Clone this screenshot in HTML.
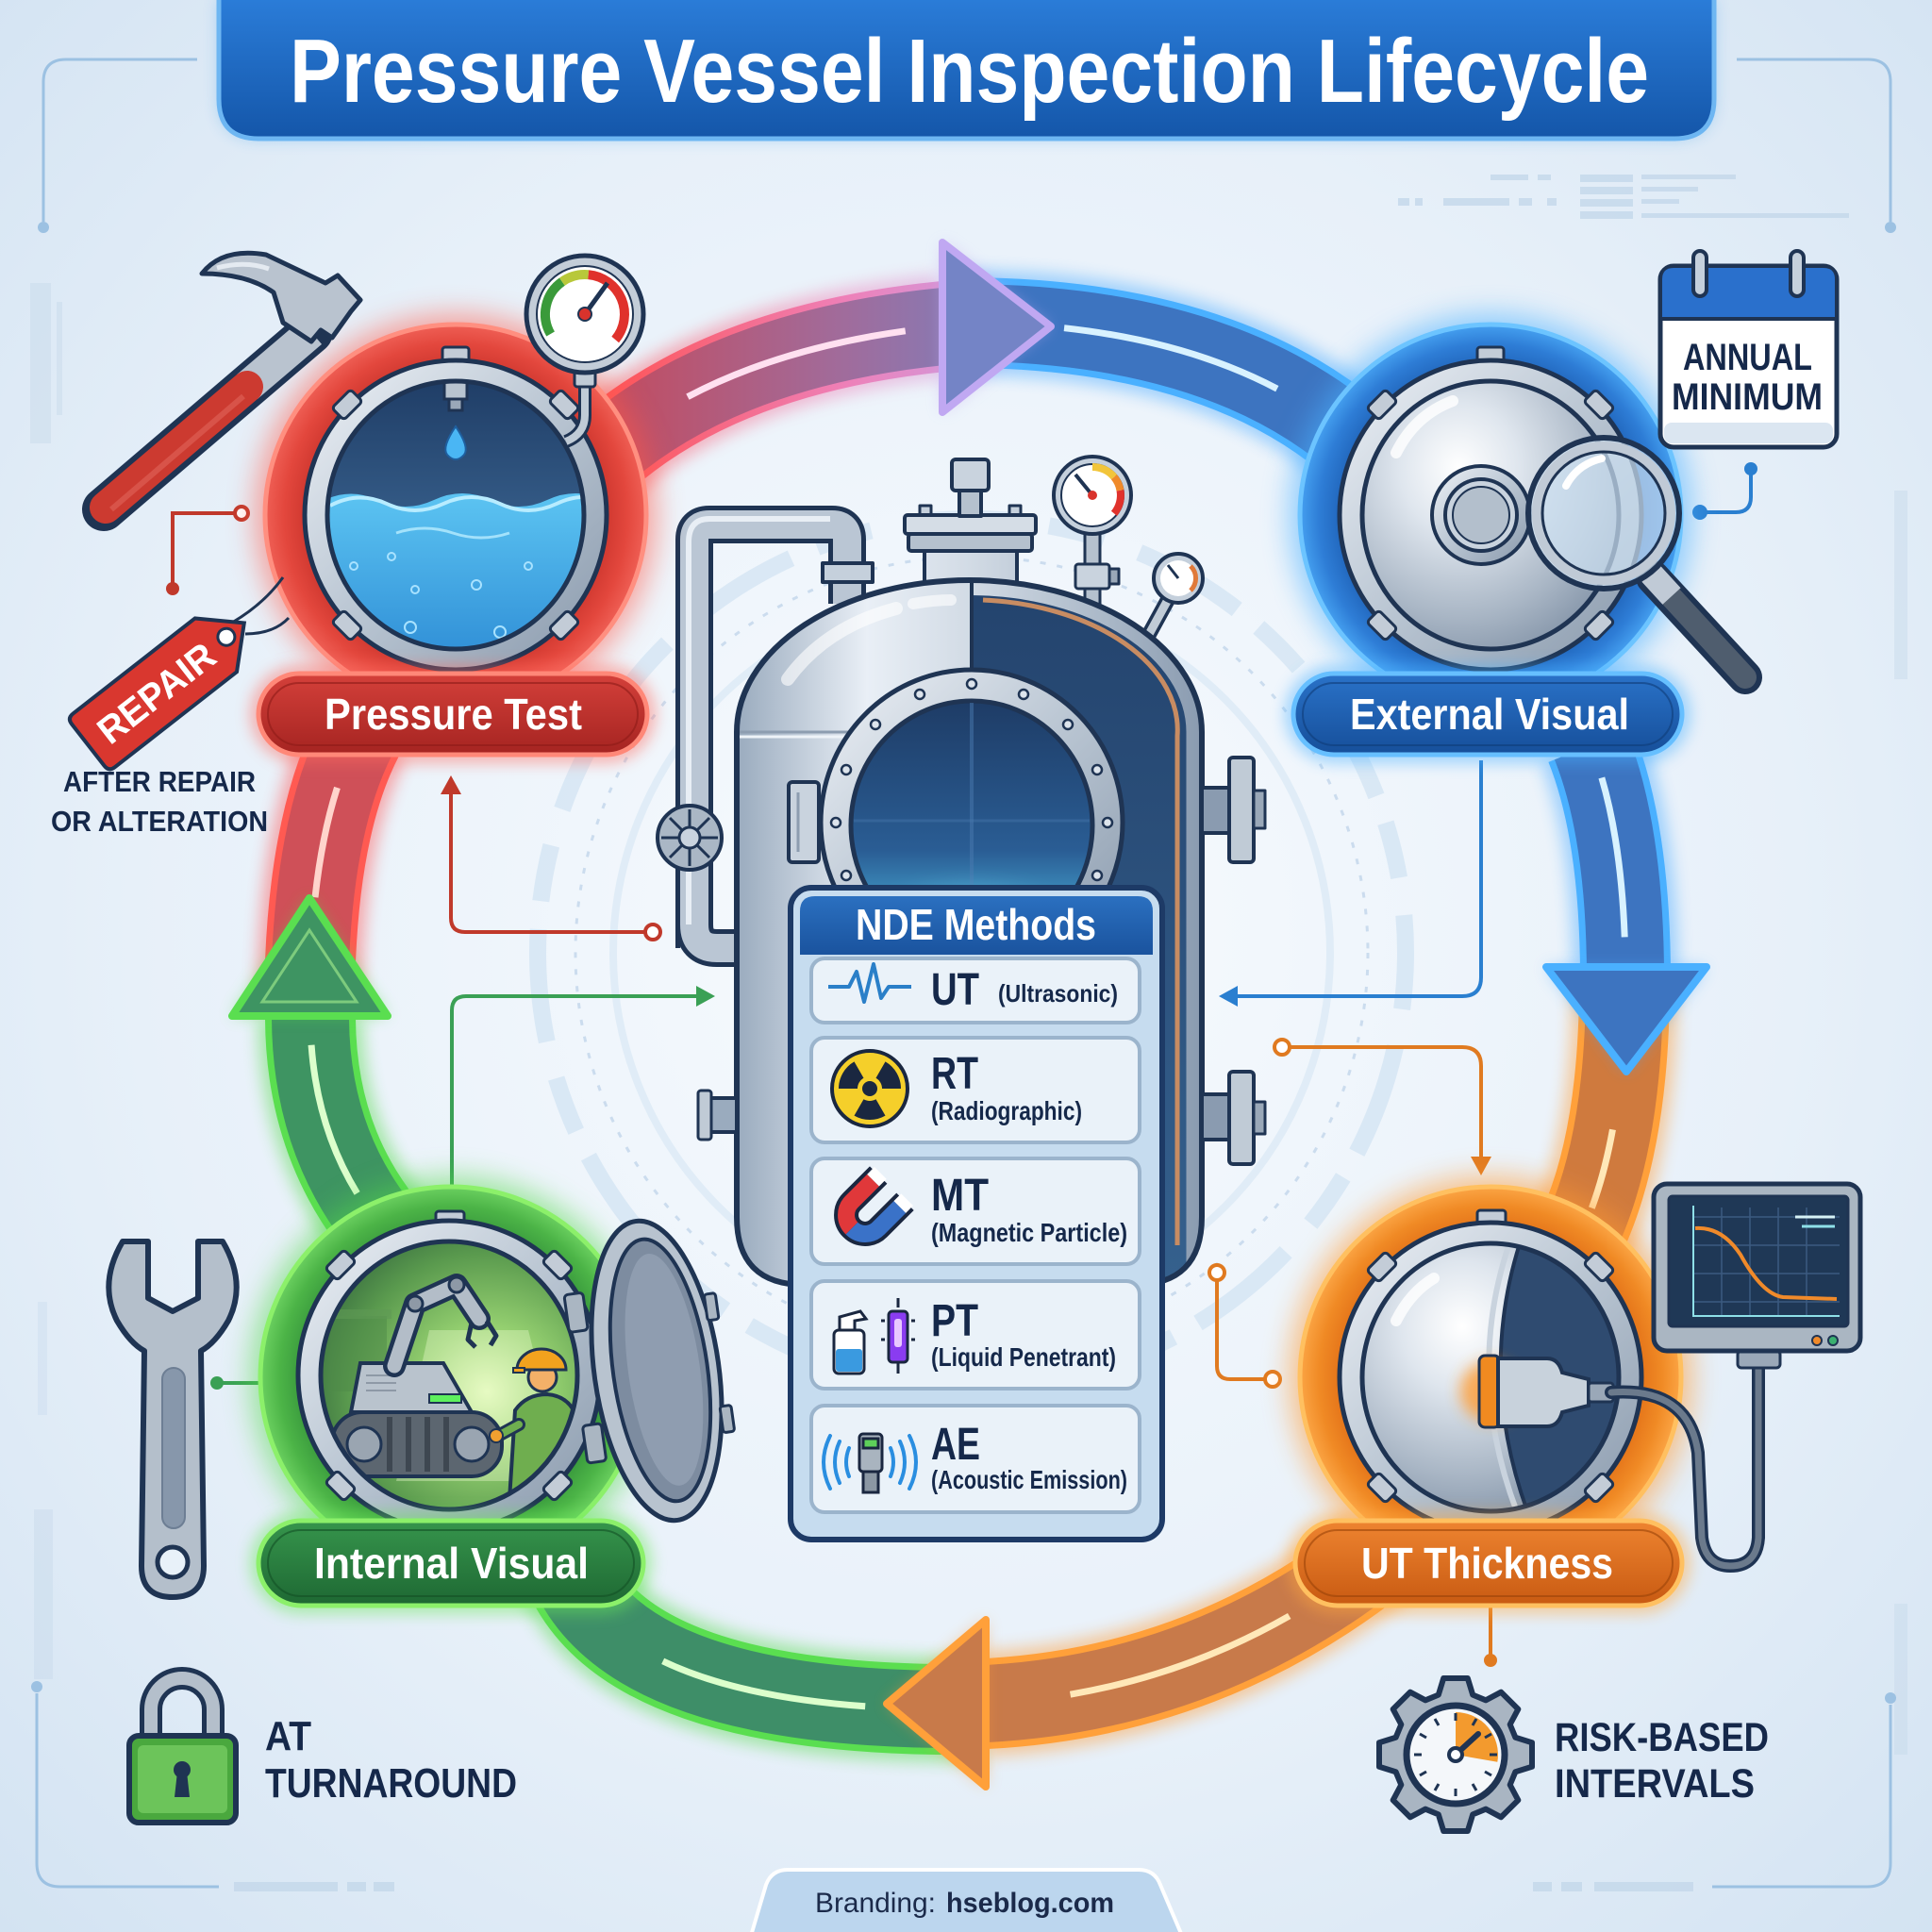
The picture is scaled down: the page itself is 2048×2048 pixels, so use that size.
<!DOCTYPE html>
<html><head><meta charset="utf-8">
<style>
html,body{margin:0;padding:0;background:#e6f0f8;}
svg{display:block}
text{font-family:"Liberation Sans",Arial,sans-serif;}
</style></head>
<body>
<svg xmlns="http://www.w3.org/2000/svg" width="2048" height="2048" viewBox="0 0 2048 2048">
<defs>
  <radialGradient id="bg" cx="50%" cy="48%" r="72%">
    <stop offset="0" stop-color="#f8fbfe"/><stop offset=".6" stop-color="#e7f0f9"/><stop offset="1" stop-color="#d3e3f2"/>
  </radialGradient>
  <filter id="b4" filterUnits="userSpaceOnUse" x="0" y="0" width="2048" height="2048"><feGaussianBlur stdDeviation="4"/></filter>
  <filter id="b8" filterUnits="userSpaceOnUse" x="0" y="0" width="2048" height="2048"><feGaussianBlur stdDeviation="8"/></filter>
  <filter id="b14" filterUnits="userSpaceOnUse" x="0" y="0" width="2048" height="2048"><feGaussianBlur stdDeviation="14"/></filter>
  <linearGradient id="gTitle" x1="0" y1="0" x2="0" y2="1"><stop offset="0" stop-color="#2b7dd9"/><stop offset="1" stop-color="#1456a9"/></linearGradient>
  <linearGradient id="gShell" gradientUnits="userSpaceOnUse" x1="781" y1="0" x2="1274" y2="0">
    <stop offset="0" stop-color="#9aabbe"/><stop offset=".28" stop-color="#e9eff6"/><stop offset=".5" stop-color="#d2dbe5"/><stop offset=".8" stop-color="#a9b7c7"/><stop offset="1" stop-color="#8a9bb0"/>
  </linearGradient>
  <linearGradient id="gInt" x1="0" y1="0" x2="0" y2="1"><stop offset="0" stop-color="#24446e"/><stop offset="1" stop-color="#36628f"/></linearGradient>
  <linearGradient id="gPort" x1="0" y1="0" x2="0" y2="1"><stop offset="0" stop-color="#1e3c66"/><stop offset=".6" stop-color="#2a5d94"/><stop offset="1" stop-color="#52c6ec"/></linearGradient>
  <linearGradient id="gMetal" x1="0" y1="0" x2="1" y2="1"><stop offset="0" stop-color="#eef2f7"/><stop offset=".5" stop-color="#b9c5d2"/><stop offset="1" stop-color="#8898ab"/></linearGradient>
  <radialGradient id="gSphere" cx=".38" cy=".32" r=".75"><stop offset="0" stop-color="#ffffff"/><stop offset=".3" stop-color="#dfe6ee"/><stop offset=".7" stop-color="#a9b6c5"/><stop offset="1" stop-color="#7d8ea3"/></radialGradient>
  <linearGradient id="gWater" x1="0" y1="0" x2="0" y2="1"><stop offset="0" stop-color="#5cc4f2"/><stop offset="1" stop-color="#2f8ed6"/></linearGradient>
  <linearGradient id="gDeep" x1="0" y1="0" x2="0" y2="1"><stop offset="0" stop-color="#1f3d66"/><stop offset="1" stop-color="#4a7aa8"/></linearGradient>
  <radialGradient id="gIV" cx=".62" cy=".55" r=".65"><stop offset="0" stop-color="#e0f8b8"/><stop offset=".35" stop-color="#95d070"/><stop offset=".75" stop-color="#5a9a4e"/><stop offset="1" stop-color="#3a7040"/></radialGradient>
  <radialGradient id="gRed" cx=".5" cy=".5" r=".5"><stop offset=".75" stop-color="#c9332b"/><stop offset=".9" stop-color="#e3473d"/><stop offset="1" stop-color="#ef5f55"/></radialGradient>
  <radialGradient id="gBlue" cx=".5" cy=".5" r=".5"><stop offset=".75" stop-color="#1d5fb4"/><stop offset=".9" stop-color="#2e7dd6"/><stop offset="1" stop-color="#45a0f0"/></radialGradient>
  <radialGradient id="gGreen" cx=".5" cy=".5" r=".5"><stop offset=".75" stop-color="#34923a"/><stop offset=".9" stop-color="#4cb447"/><stop offset="1" stop-color="#6bd060"/></radialGradient>
  <radialGradient id="gOrange" cx=".5" cy=".5" r=".5"><stop offset=".75" stop-color="#e06c15"/><stop offset=".9" stop-color="#f08a25"/><stop offset="1" stop-color="#fba545"/></radialGradient>
  <linearGradient id="gPR" x1="0" y1="0" x2="0" y2="1"><stop offset="0" stop-color="#d4403a"/><stop offset="1" stop-color="#a52421"/></linearGradient>
  <linearGradient id="gPB" x1="0" y1="0" x2="0" y2="1"><stop offset="0" stop-color="#2a72c8"/><stop offset="1" stop-color="#164f9a"/></linearGradient>
  <linearGradient id="gPG" x1="0" y1="0" x2="0" y2="1"><stop offset="0" stop-color="#36954c"/><stop offset="1" stop-color="#1e6833"/></linearGradient>
  <linearGradient id="gPO" x1="0" y1="0" x2="0" y2="1"><stop offset="0" stop-color="#ee8430"/><stop offset="1" stop-color="#c85a12"/></linearGradient>
  <linearGradient id="gHdr" x1="0" y1="0" x2="0" y2="1"><stop offset="0" stop-color="#2b70c0"/><stop offset="1" stop-color="#1a539e"/></linearGradient>
  <linearGradient id="gTopE" gradientUnits="userSpaceOnUse" x1="630" y1="0" x2="1114" y2="0"><stop offset="0" stop-color="#ff5252"/><stop offset=".55" stop-color="#ee80b8"/><stop offset="1" stop-color="#c0a8f2"/></linearGradient>
  <linearGradient id="gTopB" gradientUnits="userSpaceOnUse" x1="630" y1="0" x2="1114" y2="0"><stop offset="0" stop-color="#c44a5c"/><stop offset=".55" stop-color="#a06c9c"/><stop offset="1" stop-color="#7484c6"/></linearGradient>
  <clipPath id="cPT"><ellipse cx="483" cy="546" rx="136" ry="142"/></clipPath>
  <clipPath id="cEV"><ellipse cx="1580" cy="546" rx="136" ry="142"/></clipPath>
  <clipPath id="cIV"><ellipse cx="476" cy="1458" rx="136" ry="142"/></clipPath>
  <clipPath id="cUT"><ellipse cx="1580" cy="1460" rx="136" ry="142"/></clipPath>
  <clipPath id="cShell"><path d="M781 776 A246.5 161 0 0 1 1274 776 L1274 1290 Q1274 1362 1202 1362 L853 1362 Q781 1362 781 1290 Z"/></clipPath>
</defs>

<!-- background -->
<rect width="2048" height="2048" fill="url(#bg)"/>

<!-- decorative faint elements -->
<g fill="#c3d7ea" opacity=".8">
  <rect x="1482" y="210" width="12" height="8"/><rect x="1500" y="210" width="8" height="8"/><rect x="1530" y="210" width="70" height="8"/><rect x="1610" y="210" width="14" height="8"/><rect x="1640" y="210" width="10" height="8"/>
  <rect x="1675" y="185" width="56" height="8"/><rect x="1675" y="198" width="56" height="8"/><rect x="1675" y="211" width="56" height="8"/><rect x="1675" y="224" width="56" height="8"/>
  <rect x="1740" y="185" width="100" height="5"/><rect x="1740" y="198" width="60" height="5"/><rect x="1740" y="211" width="40" height="5"/><rect x="1740" y="226" width="220" height="5"/>
  <rect x="1580" y="185" width="40" height="6"/><rect x="1630" y="185" width="14" height="6"/>
  <rect x="32" y="300" width="22" height="170" opacity=".5"/><rect x="60" y="320" width="6" height="120" opacity=".5"/>
  <rect x="2008" y="520" width="14" height="200" opacity=".5"/><rect x="2008" y="1700" width="14" height="160" opacity=".5"/>
  <rect x="36" y="1600" width="20" height="180" opacity=".45"/><rect x="40" y="1380" width="10" height="120" opacity=".4"/>
  <rect x="248" y="1995" width="110" height="10"/><rect x="368" y="1995" width="20" height="10"/><rect x="396" y="1995" width="22" height="10"/>
  <rect x="1625" y="1995" width="20" height="10"/><rect x="1655" y="1995" width="22" height="10"/><rect x="1690" y="1995" width="105" height="10"/>
</g>
<g fill="none" stroke="#9cc1e2" stroke-width="3">
  <path d="M209 63 L70 63 Q46 63 46 87 L46 235"/>
  <path d="M1841 63 L1980 63 Q2004 63 2004 87 L2004 235"/>
  <path d="M39 1795 L39 1975 Q39 2000 64 2000 L232 2000"/>
  <path d="M2004 1807 L2004 1975 Q2004 2000 1979 2000 L1815 2000"/>
</g>
<g fill="#9cc1e2"><circle cx="46" cy="241" r="6"/><circle cx="2004" cy="241" r="6"/><circle cx="39" cy="1788" r="6"/><circle cx="2004" cy="1800" r="6"/></g>
<g fill="none">
  <circle cx="1030" cy="1010" r="420" stroke="#cbdcee" stroke-width="3" stroke-dasharray="6 12"/>
  <circle cx="1030" cy="1010" r="460" stroke="#d0e2f2" stroke-width="18" stroke-dasharray="60 40 120 30" opacity=".7"/>
  <circle cx="1030" cy="1010" r="380" stroke="#d6e6f4" stroke-width="8" opacity=".6"/>
</g>

<!-- ARROWS -->
<!-- left red -->
<g fill="none">
  <path d="M328 1070 Q328 880 380 780" stroke="#ff4f4f" stroke-width="112" opacity=".45" filter="url(#b8)"/>
  <path d="M328 1070 Q328 880 380 780" stroke="#ff5a52" stroke-width="96"/>
  <path d="M328 1070 Q328 880 380 780" stroke="#cf5058" stroke-width="82"/>
  <path d="M328 1070 Q328 880 380 780" stroke="#ffd4cc" stroke-width="7" pathLength="100" stroke-dasharray="40 200" stroke-dashoffset="-40"/>
</g>
<!-- left green -->
<g fill="none">
  <path d="M430 1330 Q330 1230 329 1080" stroke="#52d94a" stroke-width="112" opacity=".45" filter="url(#b8)"/>
  <path d="M430 1330 Q330 1230 329 1080" stroke="#5ade50" stroke-width="96"/>
  <path d="M430 1330 Q330 1230 329 1080" stroke="#3e9462" stroke-width="82"/>
  <path d="M430 1330 Q330 1230 329 1080" stroke="#dcffcc" stroke-width="7" pathLength="100" stroke-dasharray="60 200" stroke-dashoffset="-30"/>
</g>
<path d="M246 1077 L411 1077 L328 952 Z" fill="#52d94a" opacity=".5" filter="url(#b8)"/>
<path d="M246 1077 L411 1077 L328 952 Z" fill="#3e9462" stroke="#5ade50" stroke-width="8" stroke-linejoin="round"/>
<path d="M278 1062 L378 1062 L328 986 Z" fill="none" stroke="#a8f090" stroke-width="3" opacity=".6"/>
<!-- bottom green -->
<g fill="none">
  <path d="M1040 1812 Q662 1817 600 1660" stroke="#52d94a" stroke-width="112" opacity=".45" filter="url(#b8)"/>
  <path d="M1040 1812 Q662 1817 600 1660" stroke="#5ade50" stroke-width="96"/>
  <path d="M1040 1812 Q662 1817 600 1660" stroke="#3e8e68" stroke-width="82"/>
  <path d="M1040 1812 Q662 1817 600 1660" stroke="#dcffcc" stroke-width="7" pathLength="100" stroke-dasharray="45 200" stroke-dashoffset="-25"/>
</g>
<!-- bottom orange -->
<g fill="none">
  <path d="M1460 1650 Q1277 1794 1045 1806" stroke="#ff9a30" stroke-width="112" opacity=".45" filter="url(#b8)"/>
  <path d="M1460 1650 Q1277 1794 1045 1806" stroke="#ffa03a" stroke-width="96"/>
  <path d="M1460 1650 Q1277 1794 1045 1806" stroke="#c87a4a" stroke-width="82"/>
  <path d="M1460 1650 Q1277 1794 1045 1806" stroke="#ffe8b8" stroke-width="7" pathLength="100" stroke-dasharray="55 200" stroke-dashoffset="-25"/>
</g>
<path d="M1045 1717 L1045 1894 L940 1806 Z" fill="#ff9a30" opacity=".5" filter="url(#b8)"/>
<path d="M1045 1717 L1045 1894 L940 1806 Z" fill="#c87a4a" stroke="#ffa03a" stroke-width="8" stroke-linejoin="round"/>
<!-- right orange -->
<g fill="none">
  <path d="M1722 1040 Q1722 1220 1670 1320" stroke="#ff9a30" stroke-width="112" opacity=".45" filter="url(#b8)"/>
  <path d="M1722 1040 Q1722 1220 1670 1320" stroke="#ffa03a" stroke-width="96"/>
  <path d="M1722 1040 Q1722 1220 1670 1320" stroke="#cf7a3e" stroke-width="82"/>
  <path d="M1722 1040 Q1722 1220 1670 1320" stroke="#ffe8b8" stroke-width="7" pathLength="100" stroke-dasharray="30 200" stroke-dashoffset="-55"/>
</g>
<!-- right blue -->
<g fill="none">
  <path d="M1686 790 Q1722 880 1723 1030" stroke="#44a8ff" stroke-width="112" opacity=".45" filter="url(#b8)"/>
  <path d="M1686 790 Q1722 880 1723 1030" stroke="#4ab0ff" stroke-width="96"/>
  <path d="M1686 790 Q1722 880 1723 1030" stroke="#3d74c0" stroke-width="82"/>
  <path d="M1686 790 Q1722 880 1723 1030" stroke="#d8f2ff" stroke-width="7" pathLength="100" stroke-dasharray="70 200" stroke-dashoffset="-15"/>
</g>
<path d="M1639 1025 L1809 1025 L1724 1136 Z" fill="#44a8ff" opacity=".5" filter="url(#b8)"/>
<path d="M1639 1025 L1809 1025 L1724 1136 Z" fill="#3d74c0" stroke="#4ab0ff" stroke-width="8" stroke-linejoin="round"/>
<!-- top blue -->
<g fill="none">
  <path d="M1010 342 Q1300 340 1450 480" stroke="#44a8ff" stroke-width="112" opacity=".45" filter="url(#b8)"/>
  <path d="M1010 342 Q1300 340 1450 480" stroke="#4ab0ff" stroke-width="96"/>
  <path d="M1010 342 Q1300 340 1450 480" stroke="#3d74c0" stroke-width="82"/>
  <path d="M1010 342 Q1300 340 1450 480" stroke="#d8f2ff" stroke-width="7" pathLength="100" stroke-dasharray="50 200" stroke-dashoffset="-25"/>
</g>
<!-- top red->purple -->
<g fill="none">
  <path d="M630 490 Q760 370 1000 346" stroke="url(#gTopE)" stroke-width="112" opacity=".45" filter="url(#b8)"/>
  <path d="M630 490 Q760 370 1000 346" stroke="url(#gTopE)" stroke-width="96"/>
  <path d="M630 490 Q760 370 1000 346" stroke="url(#gTopB)" stroke-width="82"/>
  <path d="M630 490 Q760 370 1000 346" stroke="#ffe0f0" stroke-width="7" pathLength="100" stroke-dasharray="60 200" stroke-dashoffset="-30"/>
</g>
<path d="M999 257 L1114 346 L999 437 Z" fill="#c0a8f2" opacity=".5" filter="url(#b8)"/>
<path d="M999 257 L1114 346 L999 437 Z" fill="#7484c6" stroke="#c0a8f2" stroke-width="8" stroke-linejoin="round"/>

<!-- CENTRAL VESSEL -->
<g stroke-linejoin="round">
  <!-- pipe -->
  <path d="M736 1005 L736 572 Q736 556 752 556 L882 556 Q898 556 898 572 L898 640" fill="none" stroke="#1f3453" stroke-width="40"/>
  <path d="M736 1005 L736 572 Q736 556 752 556 L882 556 Q898 556 898 572 L898 640" fill="none" stroke="#bac6d4" stroke-width="30"/>
  <path d="M730 1000 L730 575 Q730 550 752 550 L880 550" fill="none" stroke="#e8eef5" stroke-width="6"/>
  <path d="M736 980 Q736 1005 760 1005 L792 1005" fill="none" stroke="#1f3453" stroke-width="40"/>
  <path d="M736 980 Q736 1005 760 1005 L792 1005" fill="none" stroke="#bac6d4" stroke-width="30"/>
  <rect x="872" y="597" width="53" height="20" fill="#c5d0dc" stroke="#1f3453" stroke-width="4"/>
  <!-- valve wheel -->
  <circle cx="731" cy="888" r="34" fill="#aab7c5" stroke="#1f3453" stroke-width="4"/>
  <g stroke="#1f3453" stroke-width="3"><line x1="731" y1="858" x2="731" y2="918"/><line x1="701" y1="888" x2="761" y2="888"/><line x1="710" y1="867" x2="752" y2="909"/><line x1="752" y1="867" x2="710" y2="909"/></g>
  <circle cx="731" cy="888" r="11" fill="#c9d3de" stroke="#1f3453" stroke-width="3"/>
  <!-- top nozzle -->
  <rect x="980" y="580" width="98" height="48" fill="url(#gShell)" stroke="#1f3453" stroke-width="4"/>
  <rect x="975" y="536" width="12" height="12" fill="#c5d0dc" stroke="#1f3453" stroke-width="3"/>
  <rect x="1070" y="536" width="12" height="12" fill="#c5d0dc" stroke="#1f3453" stroke-width="3"/>
  <rect x="959" y="546" width="139" height="20" rx="3" fill="#d5dde6" stroke="#1f3453" stroke-width="4"/>
  <rect x="963" y="566" width="131" height="18" rx="3" fill="#b5c1ce" stroke="#1f3453" stroke-width="4"/>
  <rect x="1017" y="517" width="23" height="30" fill="#b5c1ce" stroke="#1f3453" stroke-width="4"/>
  <rect x="1009" y="487" width="39" height="33" rx="4" fill="#c9d3de" stroke="#1f3453" stroke-width="4"/>
  <!-- gauge 1 stem -->
  <rect x="1150" y="563" width="16" height="85" fill="#b5c1ce" stroke="#1f3453" stroke-width="3"/>
  <rect x="1140" y="598" width="36" height="26" rx="3" fill="#c9d3de" stroke="#1f3453" stroke-width="3"/>
  <rect x="1176" y="603" width="10" height="16" fill="#9aa8b8" stroke="#1f3453" stroke-width="3"/>
  <!-- gauge 2 stem -->
  <path d="M1240 632 L1216 676" stroke="#1f3453" stroke-width="16" fill="none"/>
  <path d="M1240 632 L1216 676" stroke="#c0cbd6" stroke-width="9" fill="none"/>
  <!-- shell -->
  <path d="M781 776 A246.5 161 0 0 1 1274 776 L1274 1290 Q1274 1362 1202 1362 L853 1362 Q781 1362 781 1290 Z" fill="url(#gShell)"/>
  <g clip-path="url(#cShell)">
    <path d="M1030 631 A230 145 0 0 1 1257.5 776 L1257.5 1400 L1030 1400 Z" fill="url(#gInt)"/>
    <path d="M1042 636 A222 138 0 0 1 1248 780 L1248 1320" fill="none" stroke="#c88c62" stroke-width="5"/>
    <line x1="781" y1="776" x2="1030" y2="776" stroke="#8d9db0" stroke-width="3"/>
    <line x1="781" y1="781" x2="1030" y2="781" stroke="#eef3f8" stroke-width="3"/>
  </g>
  <path d="M781 776 A246.5 161 0 0 1 1274 776 L1274 1290 Q1274 1362 1202 1362 L853 1362 Q781 1362 781 1290 Z" fill="none" stroke="#1f3453" stroke-width="6"/>
  <line x1="1030" y1="615" x2="1030" y2="720" stroke="#1f3453" stroke-width="4"/>
  <path d="M835 720 Q875 665 950 645" fill="none" stroke="#ffffff" stroke-width="14" stroke-linecap="round" opacity=".6"/>
  <path d="M968 640 Q990 636 1008 636" fill="none" stroke="#ffffff" stroke-width="12" stroke-linecap="round" opacity=".6"/>
  <!-- side nozzles -->
  <rect x="1274" y="835" width="32" height="48" fill="url(#gShell)" stroke="#1f3453" stroke-width="4"/>
  <rect x="1303" y="803" width="26" height="111" rx="4" fill="#c0cbd6" stroke="#1f3453" stroke-width="4"/>
  <rect x="1329" y="838" width="12" height="40" fill="#9aa8b8" stroke="#1f3453" stroke-width="3"/>
  <rect x="1274" y="1160" width="32" height="48" fill="url(#gShell)" stroke="#1f3453" stroke-width="4"/>
  <rect x="1303" y="1136" width="26" height="98" rx="4" fill="#c0cbd6" stroke="#1f3453" stroke-width="4"/>
  <rect x="1329" y="1168" width="12" height="34" fill="#9aa8b8" stroke="#1f3453" stroke-width="3"/>
  <rect x="752" y="1164" width="29" height="36" fill="url(#gShell)" stroke="#1f3453" stroke-width="4"/>
  <rect x="740" y="1156" width="14" height="52" rx="3" fill="#c0cbd6" stroke="#1f3453" stroke-width="3"/>
  <rect x="836" y="829" width="32" height="85" rx="4" fill="#c9d3de" stroke="#1f3453" stroke-width="4"/>
  <line x1="846" y1="840" x2="846" y2="903" stroke="#8d9db0" stroke-width="3"/>
  <!-- manway -->
  <ellipse cx="1030" cy="872" rx="160" ry="162" fill="url(#gMetal)" stroke="#1f3453" stroke-width="5"/>
  <ellipse cx="1030" cy="875" rx="128" ry="132" fill="url(#gPort)" stroke="#1f3453" stroke-width="5"/>
  <line x1="1030" y1="745" x2="1030" y2="1000" stroke="#4a7ab0" stroke-width="4" opacity=".5"/>
  <line x1="905" y1="870" x2="1155" y2="870" stroke="#4a7ab0" stroke-width="3" opacity=".4"/>
  <ellipse cx="1030" cy="985" rx="90" ry="40" fill="#7fe6ff" opacity=".45" filter="url(#b14)"/>
  <g fill="#dde4ec" stroke="#1f3453" stroke-width="2.5">
    <circle cx="1174" cy="872" r="5"/><circle cx="1163" cy="928" r="5"/><circle cx="1132" cy="976" r="5"/>
    <circle cx="928" cy="976" r="5"/><circle cx="897" cy="928" r="5"/><circle cx="886" cy="872" r="5"/>
    <circle cx="897" cy="816" r="5"/><circle cx="928" cy="768" r="5"/><circle cx="975" cy="736" r="5"/>
    <circle cx="1030" cy="725" r="5"/><circle cx="1085" cy="736" r="5"/><circle cx="1132" cy="768" r="5"/><circle cx="1163" cy="816" r="5"/>
  </g>
  <!-- gauge 1 -->
  <circle cx="1158" cy="525" r="41" fill="#c5d0dc" stroke="#1f3453" stroke-width="4"/>
  <circle cx="1158" cy="525" r="33" fill="#ffffff" stroke="#1f3453" stroke-width="2"/>
  <path d="M1158 495 A30 30 0 0 1 1181 505.7" fill="none" stroke="#f2c53a" stroke-width="8"/>
  <path d="M1181 505.7 A30 30 0 0 1 1187.5 519.8" fill="none" stroke="#f08a2a" stroke-width="8"/>
  <path d="M1187.5 519.8 A30 30 0 0 1 1181 544.3" fill="none" stroke="#e0322c" stroke-width="8"/>
  <line x1="1158" y1="525" x2="1140" y2="503" stroke="#1f3453" stroke-width="4"/>
  <circle cx="1158" cy="525" r="5" fill="#d9332c"/>
  <!-- gauge 2 -->
  <circle cx="1249" cy="613" r="26" fill="#c5d0dc" stroke="#1f3453" stroke-width="4"/>
  <circle cx="1249" cy="613" r="19" fill="#ffffff"/>
  <path d="M1262 600 A18 18 0 0 1 1262 626" fill="none" stroke="#e07a3a" stroke-width="5"/>
  <line x1="1249" y1="613" x2="1238" y2="599" stroke="#1f3453" stroke-width="3"/>
</g>

<!-- NDE PANEL -->
<rect x="838" y="941" width="394" height="691" rx="22" fill="#c6dcef" stroke="#1d3a66" stroke-width="6"/>
<path d="M848 1012 L848 966 Q848 950 864 950 L1206 950 Q1222 950 1222 966 L1222 1012 Z" fill="url(#gHdr)"/>
<text x="907" y="996" font-size="46" font-weight="bold" fill="#ffffff" textLength="255" lengthAdjust="spacingAndGlyphs">NDE Methods</text>
<g fill="#eaf2f9" stroke="#9bb4cc" stroke-width="4">
  <rect x="860" y="1016" width="348" height="68" rx="14"/>
  <rect x="860" y="1100" width="348" height="111" rx="14"/>
  <rect x="860" y="1228" width="348" height="112" rx="14"/>
  <rect x="860" y="1358" width="348" height="114" rx="14"/>
  <rect x="860" y="1490" width="348" height="113" rx="14"/>
</g>
<g fill="#15284a" font-weight="bold">
  <text x="987" y="1065" font-size="48" textLength="51" lengthAdjust="spacingAndGlyphs">UT</text>
  <text x="1058" y="1062" font-size="26" textLength="127" lengthAdjust="spacingAndGlyphs">(Ultrasonic)</text>
  <text x="987" y="1154" font-size="48" textLength="50" lengthAdjust="spacingAndGlyphs">RT</text>
  <text x="987" y="1187" font-size="28" textLength="160" lengthAdjust="spacingAndGlyphs">(Radiographic)</text>
  <text x="987" y="1283" font-size="48" textLength="61" lengthAdjust="spacingAndGlyphs">MT</text>
  <text x="987" y="1316" font-size="28" textLength="208" lengthAdjust="spacingAndGlyphs">(Magnetic Particle)</text>
  <text x="987" y="1416" font-size="48" textLength="50" lengthAdjust="spacingAndGlyphs">PT</text>
  <text x="987" y="1448" font-size="28" textLength="196" lengthAdjust="spacingAndGlyphs">(Liquid Penetrant)</text>
  <text x="987" y="1547" font-size="48" textLength="52" lengthAdjust="spacingAndGlyphs">AE</text>
  <text x="987" y="1578" font-size="28" textLength="208" lengthAdjust="spacingAndGlyphs">(Acoustic Emission)</text>
</g>
<!-- NDE icons -->
<polyline points="878,1046 900,1046 908,1030 916,1062 926,1022 934,1058 942,1046 966,1046" fill="none" stroke="#2a7fc8" stroke-width="4" stroke-linejoin="round"/>
<circle cx="922" cy="1154" r="40" fill="#f5cf2a" stroke="#1a2740" stroke-width="4"/>
<g fill="#1a2740">
  <path d="M928.5 1165.3 L938.5 1182.6 A33 33 0 0 1 905.5 1182.6 L915.5 1165.3 A13 13 0 0 0 928.5 1165.3 Z"/>
  <path d="M909 1154 L889 1154 A33 33 0 0 1 905.5 1125.4 L915.5 1142.7 A13 13 0 0 0 909 1154 Z"/>
  <path d="M928.5 1142.7 L938.5 1125.4 A33 33 0 0 1 955 1154 L935 1154 A13 13 0 0 0 928.5 1142.7 Z"/>
  <circle cx="922" cy="1154" r="8"/>
</g>
<g transform="rotate(45 922 1283)" fill="none">
  <path d="M902 1250 L902 1290 A20 20 0 0 0 942 1290 L942 1250" stroke="#1a2740" stroke-width="26"/>
  <path d="M902 1258 L902 1290 A20 20 0 0 0 922 1310" stroke="#e0383a" stroke-width="18"/>
  <path d="M922 1310 A20 20 0 0 0 942 1290 L942 1258" stroke="#3a72c8" stroke-width="18"/>
  <path d="M902 1247 L902 1258 M942 1247 L942 1258" stroke="#ffffff" stroke-width="18"/>
</g>
<g stroke="#1a2740" stroke-width="3">
  <rect x="884" y="1410" width="32" height="46" rx="5" fill="#ffffff"/>
  <rect x="886" y="1430" width="28" height="24" rx="3" fill="#3a9ae0" stroke="none"/>
  <path d="M890 1410 L890 1396 L912 1390 L918 1398 L906 1400 L906 1410 Z" fill="#ffffff"/>
  <rect x="942" y="1390" width="20" height="54" rx="4" fill="#8a3cf0"/>
  <line x1="952" y1="1444" x2="952" y2="1456"/>
  <line x1="952" y1="1376" x2="952" y2="1386"/>
  <line x1="934" y1="1400" x2="938" y2="1400"/><line x1="966" y1="1400" x2="970" y2="1400"/>
  <line x1="934" y1="1420" x2="938" y2="1420"/><line x1="966" y1="1420" x2="970" y2="1420"/>
</g>
<rect x="948" y="1398" width="8" height="30" rx="3" fill="#e8c8ff"/>
<g stroke="#1a2740" stroke-width="3">
  <rect x="911" y="1520" width="24" height="40" rx="4" fill="#a9b4bf"/>
  <rect x="915" y="1525" width="16" height="10" fill="#5ed05a"/>
  <rect x="915" y="1560" width="16" height="22" fill="#8b97a3"/>
</g>
<g fill="none" stroke="#2a8ee0" stroke-width="4" stroke-linecap="round">
  <path d="M900 1535 Q894 1550 900 1565"/><path d="M890 1528 Q880 1550 890 1572"/><path d="M880 1522 Q866 1550 880 1578"/>
  <path d="M944 1535 Q950 1550 944 1565"/><path d="M954 1528 Q964 1550 954 1572"/><path d="M964 1522 Q978 1550 964 1578"/>
</g>

<!-- CONNECTORS -->
<g fill="none" stroke-width="4">
  <path d="M256 544 L183 544 L183 622" stroke="#c0392b"/>
  <path d="M686 988 L493 988 Q478 988 478 973 L478 838" stroke="#c0392b"/>
  <path d="M479 1263 L479 1071 Q479 1056 494 1056 L742 1056" stroke="#3aa055"/>
  <path d="M236 1466 L276 1466" stroke="#3aa055"/>
  <path d="M1570 806 L1570 1036 Q1570 1056 1550 1056 L1308 1056" stroke="#2a7fd0"/>
  <path d="M1366 1110 L1550 1110 Q1570 1110 1570 1130 L1570 1228" stroke="#e07a20"/>
  <path d="M1290 1356 L1290 1448 Q1290 1462 1304 1462 L1342 1462" stroke="#e07a20"/>
  <path d="M1580 1702 L1580 1756" stroke="#e07a20"/>
  <path d="M1808 543 L1840 543 Q1856 543 1856 527 L1856 502" stroke="#2a7fd0"/>
</g>
<circle cx="256" cy="544" r="7" fill="#ffffff" stroke="#c0392b" stroke-width="4"/>
<circle cx="183" cy="624" r="7" fill="#c0392b"/>
<circle cx="692" cy="988" r="8" fill="#ffffff" stroke="#c0392b" stroke-width="4"/>
<path d="M478 822 L467 842 L489 842 Z" fill="#c0392b"/>
<path d="M758 1056 L738 1045 L738 1067 Z" fill="#3aa055"/>
<circle cx="230" cy="1466" r="7" fill="#3aa055"/>
<path d="M1292 1056 L1312 1045 L1312 1067 Z" fill="#2a7fd0"/>
<circle cx="1359" cy="1110" r="8" fill="#ffffff" stroke="#e07a20" stroke-width="4"/>
<path d="M1570 1246 L1559 1226 L1581 1226 Z" fill="#e07a20"/>
<circle cx="1290" cy="1349" r="8" fill="#ffffff" stroke="#e07a20" stroke-width="4"/>
<circle cx="1349" cy="1462" r="8" fill="#ffffff" stroke="#e07a20" stroke-width="4"/>
<circle cx="1580" cy="1760" r="7" fill="#e07a20"/>
<circle cx="1802" cy="543" r="8" fill="#2a7fd0"/>
<circle cx="1856" cy="497" r="7" fill="#2a7fd0"/>

<!-- PRESSURE TEST CIRCLE -->
<circle cx="483" cy="546" r="214" fill="#ff5a4a" opacity=".5" filter="url(#b14)"/>
<circle cx="483" cy="546" r="202" fill="url(#gRed)" stroke="#ff8f80" stroke-width="5"/>
<rect x="469" y="368" width="28" height="24" rx="3" fill="#c3ccd7" stroke="#1f3453" stroke-width="3"/>
<ellipse cx="483" cy="546" rx="160" ry="164" fill="url(#gMetal)" stroke="#1f3453" stroke-width="5"/>
<g fill="#c3ccd7" stroke="#1f3453" stroke-width="3">
  <rect x="-14" y="-9" width="28" height="18" rx="4" transform="translate(368 429) rotate(-45)"/>
  <rect x="-14" y="-9" width="28" height="18" rx="4" transform="translate(598 429) rotate(45)"/>
  <rect x="-14" y="-9" width="28" height="18" rx="4" transform="translate(368 663) rotate(45)"/>
  <rect x="-14" y="-9" width="28" height="18" rx="4" transform="translate(598 663) rotate(-45)"/>
</g>
<g clip-path="url(#cPT)">
  <rect x="340" y="400" width="290" height="300" fill="url(#gDeep)"/>
  <path d="M340 532 Q370 516 400 530 T460 530 T520 530 T580 530 T640 530 L640 700 L340 700 Z" fill="url(#gWater)"/>
  <path d="M350 536 Q380 520 410 534 T470 534 T530 534 T590 534 T640 534" fill="none" stroke="#b8ecff" stroke-width="4"/>
  <path d="M420 565 Q450 555 480 565 T540 565" fill="none" stroke="#b8ecff" stroke-width="3" opacity=".8"/>
  <g fill="none" stroke="#a8e2ff" stroke-width="2">
    <circle cx="375" cy="600" r="4"/><circle cx="415" cy="590" r="4"/><circle cx="440" cy="625" r="4"/><circle cx="505" cy="620" r="5"/><circle cx="560" cy="600" r="4"/><circle cx="590" cy="640" r="4"/><circle cx="435" cy="665" r="6"/><circle cx="530" cy="670" r="6"/>
  </g>
  <rect x="471" y="405" width="24" height="18" fill="#b8c4d0" stroke="#1f3453" stroke-width="3"/>
  <rect x="476" y="423" width="14" height="12" fill="#9aa8b8" stroke="#1f3453" stroke-width="3"/>
  <path d="M483 452 Q468 474 474 482 Q483 492 492 482 Q498 474 483 452 Z" fill="#4ab6f4" stroke="#1f5f9f" stroke-width="2"/>
</g>
<ellipse cx="483" cy="546" rx="136" ry="142" fill="none" stroke="#1f3453" stroke-width="5"/>
<!-- PT gauge -->
<path d="M620 396 L620 440 Q620 460 600 468" fill="none" stroke="#1f3453" stroke-width="14"/>
<path d="M620 396 L620 440 Q620 460 600 468" fill="none" stroke="#c0cbd6" stroke-width="8"/>
<rect x="609" y="392" width="22" height="18" rx="3" fill="#c0cbd6" stroke="#1f3453" stroke-width="3"/>
<circle cx="620" cy="333" r="62" fill="#c3cdd8" stroke="#1f3453" stroke-width="5"/>
<circle cx="620" cy="333" r="51" fill="#ffffff" stroke="#1f3453" stroke-width="2"/>
<path d="M583.6 354 A42 42 0 0 1 595.9 298.6" fill="none" stroke="#3a9a3a" stroke-width="10"/>
<path d="M595.9 298.6 A42 42 0 0 1 623.7 291.2" fill="none" stroke="#b8c83a" stroke-width="10"/>
<path d="M623.7 291.2 A42 42 0 0 1 652.2 360" fill="none" stroke="#e0322c" stroke-width="10"/>
<line x1="620" y1="333" x2="644" y2="300" stroke="#1f3453" stroke-width="5"/>
<circle cx="620" cy="333" r="7" fill="#d9332c" stroke="#1f3453" stroke-width="2"/>

<!-- EXTERNAL VISUAL CIRCLE -->
<circle cx="1580" cy="546" r="214" fill="#4ab0ff" opacity=".55" filter="url(#b14)"/>
<circle cx="1580" cy="546" r="202" fill="url(#gBlue)" stroke="#6cc4ff" stroke-width="5"/>
<rect x="1566" y="368" width="28" height="24" rx="3" fill="#c3ccd7" stroke="#1f3453" stroke-width="3"/>
<ellipse cx="1580" cy="546" rx="160" ry="164" fill="url(#gMetal)" stroke="#1f3453" stroke-width="5"/>
<g fill="#c3ccd7" stroke="#1f3453" stroke-width="3">
  <rect x="-14" y="-9" width="28" height="18" rx="4" transform="translate(1465 429) rotate(-45)"/>
  <rect x="-14" y="-9" width="28" height="18" rx="4" transform="translate(1695 429) rotate(45)"/>
  <rect x="-14" y="-9" width="28" height="18" rx="4" transform="translate(1465 663) rotate(45)"/>
  <rect x="-14" y="-9" width="28" height="18" rx="4" transform="translate(1695 663) rotate(-45)"/>
</g>
<g clip-path="url(#cEV)">
  <rect x="1440" y="400" width="280" height="300" fill="url(#gSphere)"/>
  <path d="M1480 480 Q1500 440 1540 425" fill="none" stroke="#ffffff" stroke-width="12" stroke-linecap="round" opacity=".8"/>
  <circle cx="1570" cy="546" r="52" fill="url(#gMetal)" stroke="#1f3453" stroke-width="4"/>
  <circle cx="1570" cy="546" r="38" fill="#c9d3de" stroke="#1f3453" stroke-width="4"/>
  <circle cx="1570" cy="546" r="30" fill="#b3bfcc" stroke="#1f3453" stroke-width="2"/>
</g>
<ellipse cx="1580" cy="546" rx="136" ry="142" fill="none" stroke="#1f3453" stroke-width="5"/>
<!-- magnifier -->
<path d="M1752 612 L1850 718" stroke="#1f3453" stroke-width="36" stroke-linecap="round"/>
<path d="M1758 618 L1850 718" stroke="#4f5d6e" stroke-width="24" stroke-linecap="round"/>
<path d="M1750 608 L1772 632" stroke="#c0cad6" stroke-width="26"/>
<circle cx="1700" cy="544" r="80" fill="#cfe3f3" fill-opacity=".7" stroke="#1f3453" stroke-width="6"/>
<circle cx="1700" cy="544" r="71" fill="none" stroke="#c0cad6" stroke-width="10"/>
<circle cx="1700" cy="544" r="65" fill="none" stroke="#1f3453" stroke-width="3"/>
<path d="M1660 515 Q1672 492 1698 486" fill="none" stroke="#ffffff" stroke-width="8" stroke-linecap="round"/>

<!-- INTERNAL VISUAL CIRCLE -->
<circle cx="478" cy="1460" r="214" fill="#52d94a" opacity=".5" filter="url(#b14)"/>
<circle cx="478" cy="1460" r="202" fill="url(#gGreen)" stroke="#8cf06a" stroke-width="5"/>
<rect x="462" y="1284" width="30" height="24" rx="3" fill="#c3ccd7" stroke="#1f3453" stroke-width="3"/>
<ellipse cx="476" cy="1458" rx="160" ry="164" fill="url(#gMetal)" stroke="#1f3453" stroke-width="5"/>
<g fill="#c3ccd7" stroke="#1f3453" stroke-width="3">
  <rect x="-14" y="-9" width="28" height="18" rx="4" transform="translate(361 1341) rotate(-45)"/>
  <rect x="-14" y="-9" width="28" height="18" rx="4" transform="translate(591 1341) rotate(45)"/>
  <rect x="-14" y="-9" width="28" height="18" rx="4" transform="translate(361 1575) rotate(45)"/>
  <rect x="-14" y="-9" width="28" height="18" rx="4" transform="translate(591 1575) rotate(-45)"/>
</g>
<g clip-path="url(#cIV)">
  <rect x="330" y="1310" width="300" height="300" fill="url(#gIV)"/>
  <rect x="350" y="1395" width="60" height="80" fill="#4e8a48" opacity=".5"/>
  <rect x="345" y="1388" width="70" height="10" fill="#5f9a55" opacity=".6"/>
  <path d="M455 1410 L420 1570 L600 1570 L560 1410 Z" fill="#f4ffd8" opacity=".35"/>
  <!-- robot -->
  <rect x="352" y="1497" width="180" height="68" rx="32" fill="#5c6670" stroke="#1f3453" stroke-width="4"/>
  <g fill="#9aa5b1" stroke="#1f3453" stroke-width="3"><circle cx="386" cy="1531" r="18"/><circle cx="500" cy="1531" r="18"/></g>
  <g fill="#3e4751"><rect x="410" y="1502" width="6" height="58"/><rect x="430" y="1502" width="6" height="58"/><rect x="450" y="1502" width="6" height="58"/><rect x="470" y="1502" width="6" height="58"/></g>
  <path d="M372 1497 L382 1445 L470 1445 L500 1497 Z" fill="#b9c3cd" stroke="#1f3453" stroke-width="4"/>
  <rect x="455" y="1478" width="34" height="9" fill="#5ef05e" stroke="#1f3453" stroke-width="2"/>
  <g fill="none" stroke="#8e99a6" stroke-width="2"><line x1="388" y1="1458" x2="420" y2="1458"/><line x1="388" y1="1466" x2="420" y2="1466"/><line x1="388" y1="1474" x2="420" y2="1474"/></g>
  <path d="M418 1448 L440 1382 L484 1362 L508 1398" fill="none" stroke="#1f3453" stroke-width="24" stroke-linejoin="round" stroke-linecap="round"/>
  <path d="M418 1448 L440 1382 L484 1362 L508 1398" fill="none" stroke="#b3bdc8" stroke-width="15" stroke-linejoin="round" stroke-linecap="round"/>
  <circle cx="440" cy="1382" r="8" fill="#8e99a6" stroke="#1f3453" stroke-width="3"/>
  <circle cx="484" cy="1362" r="8" fill="#8e99a6" stroke="#1f3453" stroke-width="3"/>
  <path d="M500 1402 L496 1420 L504 1428 M516 1400 L526 1416 L520 1426" fill="none" stroke="#1f3453" stroke-width="5" stroke-linejoin="round"/>
  <!-- worker -->
  <path d="M540 1590 L546 1495 Q558 1478 580 1478 Q605 1480 612 1505 L616 1590 Z" fill="#6fae4f" stroke="#1f3453" stroke-width="4"/>
  <path d="M550 1510 L528 1522" stroke="#1f3453" stroke-width="14" stroke-linecap="round"/>
  <path d="M550 1510 L528 1522" stroke="#6fae4f" stroke-width="8" stroke-linecap="round"/>
  <circle cx="526" cy="1522" r="7" fill="#f0a030" stroke="#1f3453" stroke-width="2"/>
  <circle cx="575" cy="1460" r="15" fill="#f3b068" stroke="#1f3453" stroke-width="3"/>
  <path d="M548 1452 A26 22 0 0 1 600 1452 Z" fill="#f2a21e" stroke="#1f3453" stroke-width="3"/>
  <rect x="544" y="1450" width="12" height="5" fill="#f2a21e" stroke="#1f3453" stroke-width="2"/>
</g>
<ellipse cx="476" cy="1458" rx="136" ry="142" fill="none" stroke="#1f3453" stroke-width="5"/>
<!-- door -->
<g transform="rotate(-8 696 1453)">
  <rect x="610" y="1360" width="20" height="40" rx="4" fill="#aab6c2" stroke="#1f3453" stroke-width="3"/>
  <rect x="610" y="1500" width="20" height="40" rx="4" fill="#aab6c2" stroke="#1f3453" stroke-width="3"/>
  <ellipse cx="696" cy="1453" rx="66" ry="160" fill="#b8c3cf" stroke="#1f3453" stroke-width="5"/>
  <ellipse cx="700" cy="1453" rx="50" ry="140" fill="#7d8ca0" stroke="#1f3453" stroke-width="4"/>
  <ellipse cx="704" cy="1453" rx="38" ry="124" fill="#8f9db0"/>
  <rect x="757" y="1380" width="12" height="28" rx="3" fill="#aab6c2" stroke="#1f3453" stroke-width="3"/>
  <rect x="757" y="1500" width="12" height="28" rx="3" fill="#aab6c2" stroke="#1f3453" stroke-width="3"/>
</g>

<!-- UT THICKNESS CIRCLE -->
<circle cx="1580" cy="1460" r="214" fill="#ff9a30" opacity=".55" filter="url(#b14)"/>
<circle cx="1580" cy="1460" r="202" fill="url(#gOrange)" stroke="#ffc060" stroke-width="5"/>
<rect x="1566" y="1283" width="30" height="24" rx="3" fill="#c3ccd7" stroke="#1f3453" stroke-width="3"/>
<ellipse cx="1580" cy="1460" rx="160" ry="164" fill="url(#gMetal)" stroke="#1f3453" stroke-width="5"/>
<g fill="#c3ccd7" stroke="#1f3453" stroke-width="3">
  <rect x="-14" y="-9" width="28" height="18" rx="4" transform="translate(1465 1343) rotate(-45)"/>
  <rect x="-14" y="-9" width="28" height="18" rx="4" transform="translate(1695 1343) rotate(45)"/>
  <rect x="-14" y="-9" width="28" height="18" rx="4" transform="translate(1465 1577) rotate(45)"/>
  <rect x="-14" y="-9" width="28" height="18" rx="4" transform="translate(1695 1577) rotate(-45)"/>
</g>
<g clip-path="url(#cUT)">
  <rect x="1440" y="1310" width="290" height="300" fill="url(#gSphere)"/>
  <path d="M1612 1315 Q1565 1460 1622 1610 L1730 1610 L1730 1315 Z" fill="#2f4b70" stroke="#1f3453" stroke-width="4"/>
  <path d="M1600 1318 Q1552 1460 1610 1608" fill="none" stroke="#c9d3de" stroke-width="6"/>
  <path d="M1480 1400 Q1495 1370 1520 1355" fill="none" stroke="#ffffff" stroke-width="12" stroke-linecap="round" opacity=".8"/>
</g>
<ellipse cx="1580" cy="1460" rx="136" ry="142" fill="none" stroke="#1f3453" stroke-width="5"/>
<!-- probe -->
<circle cx="1580" cy="1475" r="32" fill="#ff9a2e" opacity=".8" filter="url(#b8)"/>
<rect x="1568" y="1437" width="22" height="76" rx="6" fill="#f08a20" stroke="#1f3453" stroke-width="3"/>
<path d="M1588 1440 L1640 1440 Q1652 1440 1656 1455 L1684 1462 L1684 1490 L1656 1497 Q1652 1512 1640 1512 L1588 1512 Z" fill="#c8d2dc" stroke="#1f3453" stroke-width="4"/>
<rect x="1684" y="1466" width="26" height="20" rx="3" fill="#9aa8b8" stroke="#1f3453" stroke-width="3"/>
<!-- cable & monitor -->
<path d="M1708 1476 Q1790 1470 1800 1540 L1804 1630 Q1808 1660 1834 1660 Q1862 1660 1864 1630 L1864 1440" fill="none" stroke="#1f3453" stroke-width="14" stroke-linecap="round"/>
<path d="M1708 1476 Q1790 1470 1800 1540 L1804 1630 Q1808 1660 1834 1660 Q1862 1660 1864 1630 L1864 1440" fill="none" stroke="#6b7a8c" stroke-width="7" stroke-linecap="round"/>
<rect x="1842" y="1432" width="45" height="18" rx="4" fill="#9aa8b8" stroke="#1f3453" stroke-width="3"/>
<rect x="1753" y="1255" width="219" height="177" rx="14" fill="#aab6c2" stroke="#1f3453" stroke-width="5"/>
<rect x="1769" y="1268" width="190" height="138" rx="4" fill="#1f3856" stroke="#1f3453" stroke-width="3"/>
<g stroke="#3c5a80" stroke-width="1.5">
  <line x1="1795" y1="1290" x2="1950" y2="1290"/><line x1="1795" y1="1320" x2="1950" y2="1320"/><line x1="1795" y1="1350" x2="1950" y2="1350"/><line x1="1795" y1="1380" x2="1950" y2="1380"/>
  <line x1="1825" y1="1280" x2="1825" y2="1395"/><line x1="1855" y1="1280" x2="1855" y2="1395"/><line x1="1885" y1="1280" x2="1885" y2="1395"/><line x1="1915" y1="1280" x2="1915" y2="1395"/>
</g>
<path d="M1795 1278 L1795 1395 L1950 1395" fill="none" stroke="#8ee0e8" stroke-width="2"/>
<path d="M1797 1302 Q1825 1300 1845 1330 Q1868 1372 1890 1375 L1947 1377" fill="none" stroke="#f08a2a" stroke-width="4"/>
<line x1="1903" y1="1290" x2="1945" y2="1290" stroke="#d6f2f6" stroke-width="3"/>
<line x1="1910" y1="1300" x2="1945" y2="1300" stroke="#8ee0e8" stroke-width="3"/>
<circle cx="1926" cy="1421" r="5" fill="#f08a2a" stroke="#1f3453" stroke-width="2"/>
<circle cx="1943" cy="1421" r="5" fill="#3ab070" stroke="#1f3453" stroke-width="2"/>

<!-- PILLS -->
<rect x="274" y="714" width="412" height="86" rx="43" fill="none" stroke="#ff6a5e" stroke-width="16" opacity=".55" filter="url(#b8)"/>
<rect x="274" y="714" width="412" height="86" rx="43" fill="url(#gPR)" stroke="#ff8878" stroke-width="5"/>
<rect x="284" y="724" width="392" height="66" rx="33" fill="none" stroke="#8e1a18" stroke-width="2" opacity=".6"/>
<rect x="1371" y="714" width="412" height="86" rx="43" fill="none" stroke="#4ab0ff" stroke-width="16" opacity=".55" filter="url(#b8)"/>
<rect x="1371" y="714" width="412" height="86" rx="43" fill="url(#gPB)" stroke="#66bfff" stroke-width="5"/>
<rect x="1381" y="724" width="392" height="66" rx="33" fill="none" stroke="#0f3c78" stroke-width="2" opacity=".6"/>
<rect x="274" y="1612" width="408" height="90" rx="45" fill="none" stroke="#6be85a" stroke-width="16" opacity=".55" filter="url(#b8)"/>
<rect x="274" y="1612" width="408" height="90" rx="45" fill="url(#gPG)" stroke="#8cf06a" stroke-width="5"/>
<rect x="284" y="1622" width="388" height="70" rx="35" fill="none" stroke="#135025" stroke-width="2" opacity=".6"/>
<rect x="1373" y="1612" width="410" height="90" rx="45" fill="none" stroke="#ffa840" stroke-width="16" opacity=".55" filter="url(#b8)"/>
<rect x="1373" y="1612" width="410" height="90" rx="45" fill="url(#gPO)" stroke="#ffc060" stroke-width="5"/>
<rect x="1383" y="1622" width="390" height="70" rx="35" fill="none" stroke="#9a4208" stroke-width="2" opacity=".6"/>
<g font-weight="bold" font-size="46" fill="#ffffff">
  <text x="344" y="773" textLength="273" lengthAdjust="spacingAndGlyphs">Pressure Test</text>
  <text x="1431" y="773" textLength="296" lengthAdjust="spacingAndGlyphs">External Visual</text>
  <text x="333" y="1673" textLength="291" lengthAdjust="spacingAndGlyphs">Internal Visual</text>
  <text x="1443" y="1673" textLength="267" lengthAdjust="spacingAndGlyphs">UT Thickness</text>
</g>

<!-- HAMMER -->
<path d="M330 352 L110 540" stroke="#1f3453" stroke-width="46" stroke-linecap="round"/>
<path d="M330 352 L262 410" stroke="#b9c3cf" stroke-width="34"/>
<path d="M262 410 L112 538" stroke="#cc3a30" stroke-width="34" stroke-linecap="round"/>
<path d="M258 420 L118 540" stroke="#e0645a" stroke-width="6" opacity=".6"/>
<path d="M214 290 Q236 262 282 270 L345 300 L358 292 L382 318 L372 330 L352 358 L340 350 L330 362 L300 342 L290 310 Q262 290 214 290 Z" fill="#b9c3cf" stroke="#1f3453" stroke-width="5" stroke-linejoin="round"/>
<path d="M230 284 Q260 276 285 285" fill="none" stroke="#e4eaf1" stroke-width="5"/>

<!-- REPAIR TAG -->
<path d="M246 660 Q280 640 300 612" fill="none" stroke="#1f3453" stroke-width="3"/>
<path d="M260 672 Q290 672 306 655" fill="none" stroke="#1f3453" stroke-width="3"/>
<g transform="translate(180 722) rotate(-38)">
  <path d="M-102 -36 L62 -36 L100 0 L62 36 L-102 36 Q-110 36 -110 28 L-110 -28 Q-110 -36 -102 -36 Z" fill="#d9372f" stroke="#1f3453" stroke-width="4"/>
  <circle cx="76" cy="0" r="9" fill="#ffffff" stroke="#1f3453" stroke-width="3"/>
  <text x="-92" y="15" font-size="40" font-weight="bold" fill="#ffffff" textLength="146" lengthAdjust="spacingAndGlyphs">REPAIR</text>
</g>

<!-- WRENCH -->
<path d="M130 1316 L157 1316 L157 1376 L183 1390 L210 1376 L210 1316 L236 1316 Q262 1360 242 1400 Q228 1424 213 1432 L216 1660 Q216 1693 183 1693 Q150 1693 150 1660 L153 1432 Q138 1424 124 1400 Q104 1360 130 1316 Z" fill="#b4bfcb" stroke="#1f3453" stroke-width="6" stroke-linejoin="round"/>
<rect x="172" y="1450" width="24" height="170" rx="12" fill="#8797ab" stroke="#6d7e94" stroke-width="2"/>
<circle cx="183" cy="1656" r="16" fill="#e8f1f9" stroke="#1f3453" stroke-width="5"/>

<!-- LOCK -->
<path d="M160 1845 L160 1812 A33 33 0 0 1 226 1812 L226 1845" fill="none" stroke="#1f3453" stroke-width="24"/>
<path d="M160 1845 L160 1812 A33 33 0 0 1 226 1812 L226 1845" fill="none" stroke="#b4bfcb" stroke-width="14"/>
<rect x="137" y="1840" width="113" height="92" rx="10" fill="#4aa83e" stroke="#1f3453" stroke-width="6"/>
<rect x="146" y="1850" width="95" height="72" rx="6" fill="#6cc45a"/>
<circle cx="193" cy="1876" r="9" fill="#1f3453"/>
<path d="M188 1878 L185 1905 L201 1905 L198 1878 Z" fill="#1f3453"/>

<!-- GEAR -->
<g transform="translate(1543 1860)">
  <polygon points="-18.2,-63.4 -12.8,-81 12.8,-81 18.2,-63.4 32,-57.7 48.2,-66.3 66.3,-48.2 57.7,-32 63.4,-18.2 81,-12.8 81,12.8 63.4,18.2 57.7,32 66.3,48.2 48.2,66.3 32,57.7 18.2,63.4 12.8,81 -12.8,81 -18.2,63.4 -32,57.7 -48.2,66.3 -66.3,48.2 -57.7,32 -63.4,18.2 -81,12.8 -81,-12.8 -63.4,-18.2 -57.7,-32 -66.3,-48.2 -48.2,-66.3 -32,-57.7" fill="#a9b5c2" stroke="#1f3453" stroke-width="6" stroke-linejoin="round"/>
  <circle r="52" fill="#f4f7fa" stroke="#1f3453" stroke-width="7"/>
  <path d="M0 0 L0 -45 A45 45 0 0 1 44.3 7.8 Z" fill="#f39a2e"/>
  <g stroke="#1f3453" stroke-width="3">
    <line x1="0" y1="-44" x2="0" y2="-36"/><line x1="44" y1="0" x2="36" y2="0"/><line x1="0" y1="44" x2="0" y2="36"/><line x1="-44" y1="0" x2="-36" y2="0"/>
    <line x1="22" y1="-38" x2="18" y2="-31"/><line x1="38" y1="-22" x2="31" y2="-18"/><line x1="38" y1="22" x2="31" y2="18"/><line x1="22" y1="38" x2="18" y2="31"/>
    <line x1="-22" y1="38" x2="-18" y2="31"/><line x1="-38" y1="22" x2="-31" y2="18"/><line x1="-38" y1="-22" x2="-31" y2="-18"/><line x1="-22" y1="-38" x2="-18" y2="-31"/>
  </g>
  <line x1="0" y1="0" x2="24" y2="-22" stroke="#1f3453" stroke-width="6" stroke-linecap="round"/>
  <circle r="7" fill="#ffffff" stroke="#1f3453" stroke-width="4"/>
</g>

<!-- CALENDAR -->
<rect x="1760" y="282" width="187" height="192" rx="14" fill="#ffffff" stroke="#1f3453" stroke-width="5"/>
<path d="M1762 338 L1762 296 Q1762 284 1774 284 L1933 284 Q1945 284 1945 296 L1945 338 Z" fill="#2a70cc"/>
<line x1="1762" y1="338" x2="1945" y2="338" stroke="#1f3453" stroke-width="4"/>
<rect x="1764" y="448" width="179" height="22" rx="8" fill="#dbe6f1"/>
<rect x="1795" y="266" width="14" height="48" rx="7" fill="#c5d0dc" stroke="#1f3453" stroke-width="4"/>
<rect x="1898" y="266" width="14" height="48" rx="7" fill="#c5d0dc" stroke="#1f3453" stroke-width="4"/>
<g fill="#15284a" font-weight="bold" font-size="40">
  <text x="1784" y="392" textLength="137" lengthAdjust="spacingAndGlyphs">ANNUAL</text>
  <text x="1772" y="434" textLength="160" lengthAdjust="spacingAndGlyphs">MINIMUM</text>
</g>

<!-- SIDE LABELS -->
<g fill="#15284a" font-weight="bold">
  <text x="67" y="839" font-size="31" textLength="204" lengthAdjust="spacingAndGlyphs">AFTER REPAIR</text>
  <text x="54" y="881" font-size="31" textLength="230" lengthAdjust="spacingAndGlyphs">OR ALTERATION</text>
  <text x="281" y="1855" font-size="44" textLength="49" lengthAdjust="spacingAndGlyphs">AT</text>
  <text x="281" y="1905" font-size="44" textLength="267" lengthAdjust="spacingAndGlyphs">TURNAROUND</text>
  <text x="1648" y="1856" font-size="43" textLength="227" lengthAdjust="spacingAndGlyphs">RISK-BASED</text>
  <text x="1648" y="1905" font-size="43" textLength="212" lengthAdjust="spacingAndGlyphs">INTERVALS</text>
</g>

<!-- TITLE BANNER -->
<path d="M232 0 L1817 0 L1817 105 Q1817 147 1775 147 L274 147 Q232 147 232 105 Z" fill="#5aaef0" opacity=".45" filter="url(#b8)"/>
<path d="M232 -4 L1817 -4 L1817 105 Q1817 147 1775 147 L274 147 Q232 147 232 105 Z" fill="url(#gTitle)" stroke="#6db6f2" stroke-width="5"/>
<text x="307" y="108" font-size="96" font-weight="bold" fill="#ffffff" textLength="1441" lengthAdjust="spacingAndGlyphs">Pressure Vessel Inspection Lifecycle</text>

<!-- BRANDING -->
<path d="M796 2052 L812 1998 Q818 1982 835 1982 L1207 1982 Q1224 1982 1230 1998 L1253 2052 Z" fill="#bcd6ee" stroke="#ffffff" stroke-width="4"/>
<text x="864" y="2027" font-size="30" fill="#1b2a4a" textLength="128" lengthAdjust="spacingAndGlyphs">Branding:</text>
<text x="1003" y="2027" font-size="30" font-weight="bold" fill="#1b2a4a" textLength="178" lengthAdjust="spacingAndGlyphs">hseblog.com</text>
</svg>
</body></html>
